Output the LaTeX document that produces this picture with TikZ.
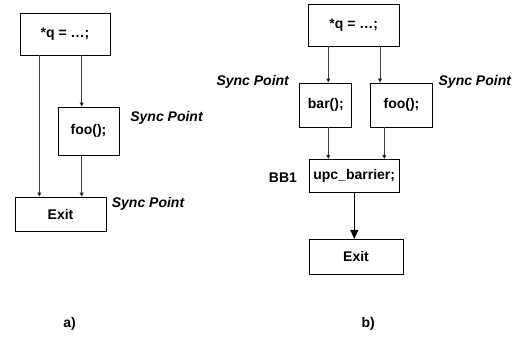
\documentclass[tikz,border=0pt]{standalone}
\usepackage{fontspec}
\setmainfont{Liberation Sans}
\usetikzlibrary{arrows.meta}
\begin{document}
\begin{tikzpicture}[x=1pt,y=-1pt,
  box/.style={draw=black,line width=0.8pt,inner sep=0pt,font=\fontsize{14}{16}\selectfont\bfseries},
  lbl/.style={inner sep=0pt,font=\fontsize{14}{16}\selectfont\bfseries\itshape},
  plain/.style={inner sep=0pt,font=\fontsize{14}{16}\selectfont\bfseries},
  arr/.style={draw=black!75,line width=0.6pt,-{Triangle[length=4pt,width=4pt,fill=black]}},
  bigarr/.style={draw=black,line width=1.1pt,-{Triangle[length=9pt,width=8pt]}}]
\useasboundingbox[fill=white] (0,0) rectangle (515,337);
% a)
\node[box,minimum width=90pt,minimum height=42pt] (qa) at (65,34) {*q = …;};
\node[box,minimum width=61pt,minimum height=48pt] (fooa) at (88.5,131) {foo();};
\node[box,minimum width=91pt,minimum height=34pt] (exita) at (60.5,214) {Exit};
\node[lbl] (spa1) at (166.5,118) {Sync Point};
\node[lbl] (spa2) at (148,204) {Sync Point};
\node[plain] (la) at (69.5,324) {a)};
\draw[arr] (qa.south -| 39.3,0) -- (exita.north -| 39.3,0);
\draw[arr] (qa.south -| 81.7,0) -- (fooa.north -| 81.7,0);
\draw[arr] (fooa.south -| 81.7,0) -- (exita.north -| 81.7,0);
% b)
\node[box,minimum width=91pt,minimum height=42pt] (qb) at (353.8,25) {*q = …;};
\node[box,minimum width=52pt,minimum height=44pt] (bar) at (325.8,105) {bar();};
\node[box,minimum width=62pt,minimum height=44pt] (foob) at (401.5,105) {foo();};
\node[box,minimum width=90pt,minimum height=33.4pt] (upc) at (354.2,176) {upc\_barrier;};
\node[box,minimum width=94pt,minimum height=35pt] (exitb) at (356,256.7) {Exit};
\node[plain] (bb1) at (283,178) {BB1};
\node[lbl] (spb1) at (252.7,81.7) {Sync Point};
\node[lbl] (spb2) at (474.8,81.7) {Sync Point};
\node[plain] (lb) at (368.3,324) {b)};
\draw[arr] (qb.south -| 328.3,0) -- (bar.north -| 328.3,0);
\draw[arr] (qb.south -| 380,0) -- (foob.north -| 380,0);
\draw[arr] (bar.south -| 328.3,0) -- (upc.north -| 328.3,0);
\draw[arr] (foob.south -| 384.3,0) -- (upc.north -| 384.3,0);
\draw[bigarr] (upc.south -| 354.3,0) -- (exitb.north -| 354.3,0);
\end{tikzpicture}
\end{document}
